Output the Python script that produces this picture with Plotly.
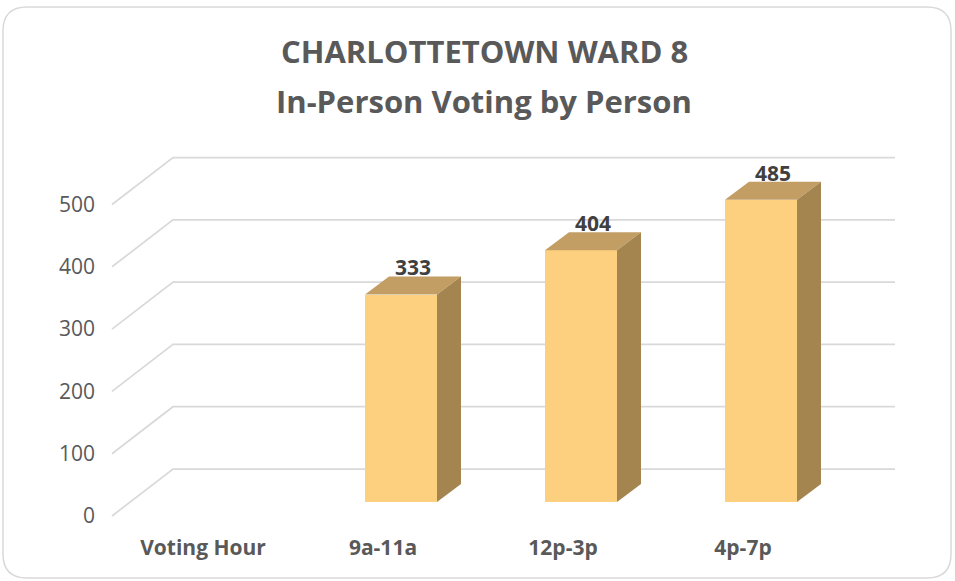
import plotly.graph_objects as go

# ---------------- data ----------------
categories = ["Voting Hour", "9a-11a", "12p-3p", "4p-7p"]
votes = [None, 333, 404, 485]
y_ticks = [0, 100, 200, 300, 400, 500]
title_line1 = "CHARLOTTETOWN WARD 8"
title_line2 = "In-Person Voting by Person"

# ---------------- geometry / style ----------------
W, H = 955, 581
ML, MR, MT, MB = 96, 15, 130, 56
PLOT_L, PLOT_R, PLOT_T, PLOT_B = ML, W - MR, MT, H - MB
PW, PH = PLOT_R - PLOT_L, PLOT_B - PLOT_T

CAT_PX = 180.0      # pixels per category
CAT0_PX = 221.0     # pixel x of first category (bar plane)
BASE_PX = 502.0     # pixel y of value 0 (bar plane)
UNIT_PX = 0.623     # pixels per value unit
BAR_W = 0.4

BAR_DEPTH_X, BAR_DEPTH_Y = 24.0, 18.0      # px, 3d depth of bars
FRONT_SHIFT_X, FRONT_SHIFT_Y = -18.0, 14.0  # px, floor front edge vs bar plane
WALL_LEFT_PX, FRONT_LEFT_PX, WALL_RIGHT_PX = 173.0, 112.0, 895.0
WALL_UP_PX = 33.0
LABEL_DROP_PX = 4.0

FRONT_C = "#FDD07F"
TOP_C = "#C39E64"
SIDE_C = "#A4854F"
GRID_C = "#D9D9D9"
TEXT_C = "#595959"
LABEL_C = "#404040"
FONT = "Open Sans"


def x_at(px):
    return (px - CAT0_PX) / CAT_PX


def y_at(py):
    return (BASE_PX - py) / UNIT_PX


def paper_x(px):
    return (px - PLOT_L) / PW


def paper_y(py):
    return (PLOT_B - py) / PH


x_range = [x_at(PLOT_L), x_at(PLOT_R)]
y_range = [y_at(PLOT_B), y_at(PLOT_T)]
bdx, bdy = BAR_DEPTH_X / CAT_PX, BAR_DEPTH_Y / UNIT_PX
fdx, fdy = FRONT_SHIFT_X / CAT_PX, FRONT_SHIFT_Y / UNIT_PX
wall_dy = WALL_UP_PX / UNIT_PX

idx = list(range(len(categories)))

fig = go.Figure()

# front faces
fig.add_trace(go.Bar(
    x=idx, y=votes, width=BAR_W, marker=dict(color=FRONT_C, line=dict(width=0)),
    hoverinfo="skip", showlegend=False))

# top and side faces
for i, v in zip(idx, votes):
    if v is None:
        continue
    l, r = i - BAR_W / 2, i + BAR_W / 2
    fig.add_trace(go.Scatter(
        x=[l, r, r + bdx, l + bdx, l], y=[v, v, v + bdy, v + bdy, v],
        mode="lines", fill="toself", fillcolor=TOP_C, line=dict(width=0, color=TOP_C),
        hoverinfo="skip", showlegend=False))
    fig.add_trace(go.Scatter(
        x=[r, r + bdx, r + bdx, r, r], y=[0, bdy, v + bdy, v, 0],
        mode="lines", fill="toself", fillcolor=SIDE_C, line=dict(width=0, color=SIDE_C),
        hoverinfo="skip", showlegend=False))

# data labels
lab_x = [i + bdx / 2 for i, v in zip(idx, votes) if v is not None]
lab_y = [v + bdy - LABEL_DROP_PX / UNIT_PX for v in votes if v is not None]
lab_t = [str(v) for v in votes if v is not None]
fig.add_trace(go.Scatter(
    x=lab_x, y=lab_y, text=lab_t, mode="text", textposition="top center",
    textfont=dict(family=FONT, size=21, color=LABEL_C, weight="bold"),
    hoverinfo="skip", showlegend=False))

# axis carriers for tick labels
fig.add_trace(go.Scatter(x=[None], y=[None], xaxis="x2", yaxis="y2",
                         hoverinfo="skip", showlegend=False))

# perspective gridlines
shapes = []
for t in y_ticks:
    path = "M {} {} L {} {} L {} {}".format(
        x_at(FRONT_LEFT_PX), t - fdy,
        x_at(WALL_LEFT_PX), t + wall_dy,
        x_at(WALL_RIGHT_PX), t + wall_dy)
    shapes.append(dict(type="path", path=path, xref="x", yref="y", layer="below",
                       line=dict(color=GRID_C, width=1.75)))

# rounded chart border
bx0, by0, bx1, by1, rad = 3, 7, 951, 578, 24


def P(px, py):
    return "{:.5f},{:.5f}".format(paper_x(px), paper_y(py))


border = ("M " + P(bx0 + rad, by0) + " L " + P(bx1 - rad, by0) +
          " Q " + P(bx1, by0) + " " + P(bx1, by0 + rad) +
          " L " + P(bx1, by1 - rad) +
          " Q " + P(bx1, by1) + " " + P(bx1 - rad, by1) +
          " L " + P(bx0 + rad, by1) +
          " Q " + P(bx0, by1) + " " + P(bx0, by1 - rad) +
          " L " + P(bx0, by0 + rad) +
          " Q " + P(bx0, by0) + " " + P(bx0 + rad, by0) + " Z")
shapes.append(dict(type="path", path=border, xref="paper", yref="paper",
                   line=dict(color=GRID_C, width=1.5), layer="above"))

annotations = [
    dict(text=title_line1, x=paper_x(484), y=paper_y(50.5), xref="paper", yref="paper",
         xanchor="center", yanchor="middle", showarrow=False,
         font=dict(family=FONT, size=31, color=TEXT_C, weight="bold")),
    dict(text=title_line2, x=paper_x(484), y=paper_y(101), xref="paper", yref="paper",
         xanchor="center", yanchor="middle", showarrow=False,
         font=dict(family=FONT, size=31, color=TEXT_C, weight="bold")),
]

fig.update_layout(
    width=W, height=H, autosize=False,
    margin=dict(l=ML, r=MR, t=MT, b=MB, pad=0),
    paper_bgcolor="white", plot_bgcolor="white",
    showlegend=False, bargap=0,
    shapes=shapes, annotations=annotations,
    xaxis=dict(range=x_range, showgrid=False, zeroline=False, showline=False,
               showticklabels=False, ticks="", fixedrange=True),
    yaxis=dict(range=y_range, showgrid=False, zeroline=False, showline=False,
               showticklabels=False, ticks="", fixedrange=True),
    xaxis2=dict(range=[x_range[0] - fdx, x_range[1] - fdx], overlaying="x", anchor="y",
                side="bottom", tickmode="array", tickvals=idx, ticktext=categories,
                showgrid=False, zeroline=False, showline=False, ticks="",
                ticklabelstandoff=8,
                tickfont=dict(family=FONT, size=21, color=TEXT_C, weight="bold"),
                fixedrange=True),
    yaxis2=dict(range=[y_range[0] + fdy, y_range[1] + fdy], overlaying="y", anchor="x",
                side="left", tickmode="array", tickvals=y_ticks,
                showgrid=False, zeroline=False, showline=False, ticks="",
                tickfont=dict(family=FONT, size=21, color=TEXT_C),
                fixedrange=True),
)

fig.write_html("out.html", config={"displayModeBar": False},
               post_script="document.body.style.margin='0px';")
